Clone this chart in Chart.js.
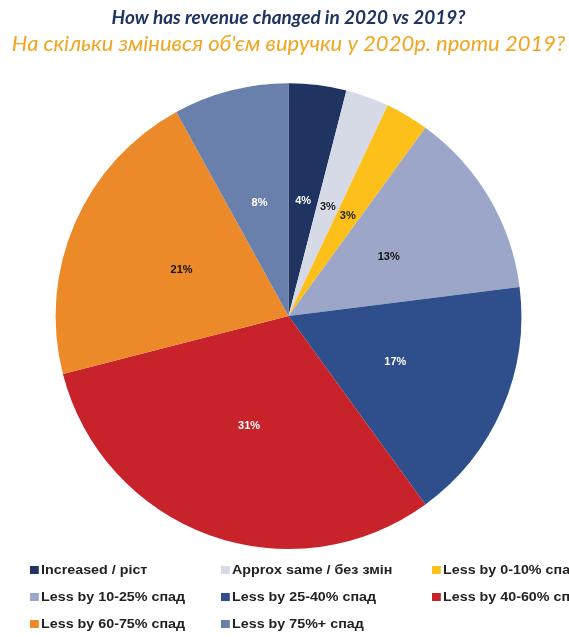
<!DOCTYPE html>
<html>
<head>
<meta charset="utf-8">
<script src="https://cdn.jsdelivr.net/npm/chart.js@4/dist/chart.umd.min.js"></script>
<style>
    html, body { margin: 0; padding: 0; background: #fff; }
    #wrap { position: relative; width: 569px; height: 637px; overflow: hidden; }
    #legend { position: absolute; left: 0; top: 0; width: 569px; height: 637px; pointer-events: none; }
    .item { position: absolute; white-space: nowrap; font: bold 13px "Liberation Sans", Arial, sans-serif; color: #222; line-height: 14px; transform: scaleX(1.1); transform-origin: left center; }
    .box { display: inline-block; width: 8px; height: 8px; margin-right: 2px; vertical-align: 0px; }
</style>
</head>
<body>
<div id="wrap">
    <canvas id="chart" width="569" height="637"></canvas>
    <div id="legend"></div>
</div>
<script>
const labels = [
    'Increased / ріст',
    'Approx same / без змін',
    'Less by 0-10% спад',
    'Less by 10-25% спад',
    'Less by 25-40% спад',
    'Less by 40-60% спад',
    'Less by 60-75% спад',
    'Less by 75%+ спад'
];
const values = [4, 3, 3, 13, 17, 31, 21, 8];
const colors = ['#1f3461', '#d6d9e6', '#fdbf1a', '#9ba6c8', '#2e4f8c', '#c8222a', '#ec8a2a', '#6880ab'];
const labelColors = ['#fff', '#222', '#222', '#111', '#fff', '#fff', '#111', '#fff'];

// legend: 3 columns like the original
const legend = document.getElementById('legend');
const colX = [30, 221, 432];
const rowY = [563, 590, 617];
labels.forEach((t, i) => {
    const d = document.createElement('div');
    d.className = 'item';
    d.style.left = colX[i % 3] + 'px';
    d.style.top = rowY[Math.floor(i / 3)] + 'px';
    d.innerHTML = '<span class="box" style="background:' + colors[i] + '"></span>' + t;
    legend.appendChild(d);
});

const sliceLabels = {
    id: 'sliceLabels',
    afterDatasetsDraw(chart){
        const ctx = chart.ctx;
        const meta = chart.getDatasetMeta(0);
        ctx.save();
        ctx.font = 'bold 11px "Liberation Sans", Arial, sans-serif';
        ctx.textAlign = 'center';
        ctx.textBaseline = 'middle';
        meta.data.forEach((arc, i) => {
            const p = arc.getCenterPoint();
            ctx.fillStyle = labelColors[i];
            ctx.fillText(values[i] + '%', p.x, p.y);
        });
        ctx.restore();
    }
};

new Chart('chart', {
    type: 'pie',
    data: {
        labels: labels,
        datasets: [{
            data: values,
            backgroundColor: colors,
            borderWidth: 0
        }]
    },
    plugins: [sliceLabels],
    options: {
        responsive: false,
        animation: false,
        layout: { padding: { top: 0, bottom: 88, left: 8, right: 0 } },
        plugins: {
            legend: { display: false },
            tooltip: { enabled: false },
            title: {
                display: true,
                text: 'How has revenue changed in 2020 vs 2019?',
                color: '#1f3461',
                font: { family: 'Lato', size: 19, style: 'italic', weight: 'bold' },
                padding: { top: 6, bottom: 2 }
            },
            subtitle: {
                display: true,
                text: 'На скільки змінився об\'єм виручки у 2020р. проти 2019?',
                color: '#f2a51f',
                font: { family: 'Lato', size: 22, style: 'italic', weight: 'normal' },
                padding: { top: 0, bottom: 26 }
            }
        }
    }
});
</script>
</body>
</html>
